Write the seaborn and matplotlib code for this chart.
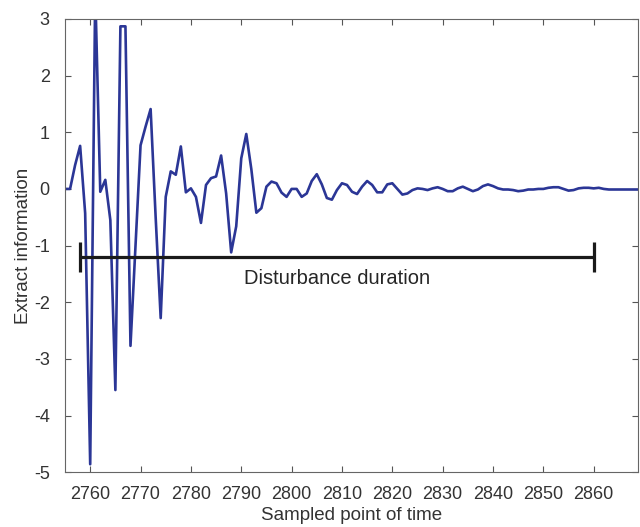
import matplotlib
matplotlib.use('Agg')
import matplotlib.pyplot as plt
import pandas as pd
import seaborn as sns

# sampled points 2755..2869
start = 2755
values = [
    0.0, 0.0, 0.42, 0.76, -0.43, -4.86, 3.5, -0.05, 0.16, -0.55,    # 2755-2764
    -3.55, 2.87, 2.87, -2.77, -1.0, 0.77, 1.1, 1.41, -0.5, -2.28,   # 2765-2774
    -0.14, 0.31, 0.25, 0.75, -0.06, 0.01, -0.14, -0.6, 0.07, 0.19,  # 2775-2784
    0.22, 0.59, -0.08, -1.12, -0.66, 0.54, 0.97, 0.35, -0.42, -0.34, # 2785-2794
    0.04, 0.13, 0.10, -0.065, -0.14, 0.0, 0.0, -0.14, -0.08, 0.14,  # 2795-2804
    0.26, 0.08, -0.16, -0.19, -0.02, 0.10, 0.07, -0.05, -0.09, 0.04, # 2805-2814
    0.14, 0.07, -0.06, -0.06, 0.08, 0.10, 0.0, -0.10, -0.08, -0.02, # 2815-2824
    0.01, 0.0, -0.02, 0.01, 0.03, 0.0, -0.04, -0.04, 0.01, 0.04,    # 2825-2834
    0.0, -0.04, -0.01, 0.05, 0.08, 0.05, 0.01, -0.01, -0.01, -0.02, # 2835-2844
    -0.04, -0.03, -0.01, -0.01, 0.0, 0.0, 0.02, 0.03, 0.03, 0.0,    # 2845-2854
    -0.03, -0.02, 0.01, 0.02, 0.02, 0.01, 0.02, 0.0, -0.01, -0.01,  # 2855-2864
    -0.01, -0.01, -0.01, -0.01, -0.01,                               # 2865-2869
]
samples = list(range(start, start + len(values)))

dist_start = 2758
dist_end = 2860
dist_level = -1.2
dist_label = 'Disturbance duration'

df = pd.DataFrame({'sample': samples, 'value': values})

sns.set_style('ticks')
plt.rcParams['font.family'] = ['Liberation Sans', 'DejaVu Sans']
plt.rcParams['axes.unicode_minus'] = False

fig = plt.figure(figsize=(6.4, 5.27), dpi=100)
ax = fig.add_axes([0.1016, 0.104, 0.8953, 0.86])

sns.lineplot(df, x='sample', y='value', color='#2b3696', linewidth=1.9, ax=ax)

mid = (dist_start + dist_end) / 2
ax.errorbar(mid, dist_level, xerr=(dist_end - dist_start) / 2, color='#1a1a1a',
            linewidth=2.3, capsize=11, capthick=2.3)
ax.text(mid, dist_level - 0.38, dist_label, ha='center', va='center',
        fontsize=14.5, color='#262626')

ax.set_xlim(2755, 2868.8)
ax.set_ylim(-5, 3)
ax.set_xticks(range(2760, 2861, 10))
ax.set_yticks(range(-5, 4))
ax.tick_params(direction='in', length=4, width=0.8, color='#555555',
               labelsize=13, labelcolor='#333333', top=True, right=True)
ax.tick_params(axis='x', pad=10)
ax.tick_params(axis='y', pad=11)
for s in ax.spines.values():
    s.set_color('#666666')
    s.set_linewidth(0.8)
ax.set_xlabel('Sampled point of time', fontsize=13.5, color='#333333', labelpad=3)
ax.set_ylabel('Extract information', fontsize=13.5, color='#333333', labelpad=1)

fig.savefig('out.png', dpi=100)
